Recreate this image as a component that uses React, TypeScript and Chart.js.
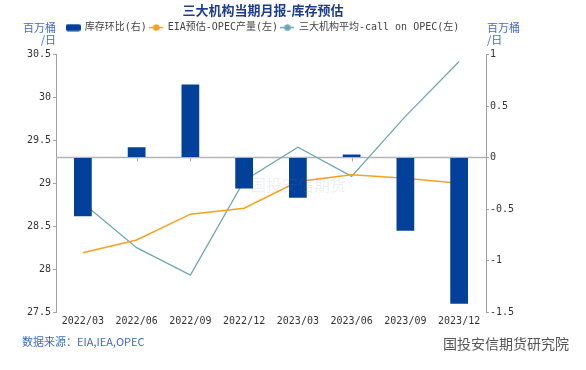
import React, { useEffect, useRef } from "react";
import { Chart, registerables } from "chart.js";

Chart.register(...registerables);

const categories = ["2022/03", "2022/06", "2022/09", "2022/12", "2023/03", "2023/06", "2023/09", "2023/12"];
const inventoryChange = [-0.57, 0.1, 0.71, -0.3, -0.39, 0.03, -0.71, -1.42];
const eiaOpecProduction = [28.19, 28.34, 28.64, 28.71, 29.02, 29.1, 29.06, 29.0];
const callOnOpecAvg = [28.77, 28.25, 27.93, 29.03, 29.42, 29.08, 29.78, 30.42];
const leftTicks = [27.5, 28, 28.5, 29, 29.5, 30, 30.5];
const rightTicks = [-1.5, -1, -0.5, 0, 0.5, 1];

const BAR = "#03409A";
const ORANGE = "#F6A21E";
const TEAL = "#6EA9B0";
const MIXFONT = "'DejaVu Sans Mono', 'Noto Sans CJK SC', monospace";

function makeMarker(kind: "bar" | "line", color: string): HTMLCanvasElement {
  const c = document.createElement("canvas");
  if (kind === "bar") {
    c.width = 15;
    c.height = 8;
    const ctx = c.getContext("2d")!;
    ctx.fillStyle = color;
    ctx.beginPath();
    (ctx as any).roundRect ? (ctx as any).roundRect(0, 0.5, 15, 7, 2) : ctx.rect(0, 0.5, 15, 7);
    ctx.fill();
  } else {
    c.width = 14;
    c.height = 9;
    const ctx = c.getContext("2d")!;
    ctx.strokeStyle = color;
    ctx.lineWidth = 1.5;
    ctx.beginPath();
    ctx.moveTo(0, 4.5);
    ctx.lineTo(14, 4.5);
    ctx.stroke();
    ctx.fillStyle = color;
    ctx.beginPath();
    ctx.arc(7, 4.5, 3.3, 0, Math.PI * 2);
    ctx.fill();
  }
  return c;
}

const zeroLinePlugin = {
  id: "zeroLine",
  beforeDatasetsDraw(chart: any) {
    const { ctx, chartArea, scales } = chart;
    const y = scales.y1.getPixelForValue(0);
    ctx.save();
    ctx.strokeStyle = "#B4B4B4";
    ctx.lineWidth = 1.5;
    ctx.beginPath();
    ctx.moveTo(chartArea.left, y);
    ctx.lineTo(chartArea.right, y);
    ctx.stroke();
    ctx.lineWidth = 1;
    ctx.strokeStyle = "#AAAAAA";
    categories.forEach((_, i) => {
      const x = Math.round(scales.x.getPixelForValue(i)) + 0.5;
      ctx.beginPath();
      ctx.moveTo(x, y);
      ctx.lineTo(x, y + 4);
      ctx.stroke();
    });
    ctx.restore();
  },
};

const legendSpacer = {
  id: "legendSpacer",
  beforeInit(chart: any) {
    if (!chart.legend) return;
    const orig = chart.legend.fit;
    chart.legend.fit = function () {
      orig.bind(chart.legend)();
      this.height += 12;
    };
  },
};

const fmt = (v: any) => String(Number(v));

export default function App() {
  const ref = useRef<HTMLCanvasElement | null>(null);

  useEffect(() => {
    document.body.style.margin = "0";
    const markers = [makeMarker("bar", BAR), makeMarker("line", ORANGE), makeMarker("line", TEAL)];
    const labels = ["库存环比(右)", "EIA预估-OPEC产量(左)", "三大机构平均-call on OPEC(左)"];
    const chart = new Chart(ref.current!, {
      type: "bar",
      data: {
        labels: categories,
        datasets: [
          {
            type: "bar",
            label: labels[0],
            data: inventoryChange,
            yAxisID: "y1",
            backgroundColor: BAR,
            borderWidth: 0,
            categoryPercentage: 1,
            barPercentage: 0.33,
            order: 0,
          },
          {
            type: "line",
            label: labels[1],
            data: eiaOpecProduction,
            yAxisID: "y",
            borderColor: ORANGE,
            backgroundColor: ORANGE,
            borderWidth: 1.5,
            pointRadius: 0,
            tension: 0,
            order: 1,
          },
          {
            type: "line",
            label: labels[2],
            data: callOnOpecAvg,
            yAxisID: "y",
            borderColor: TEAL,
            backgroundColor: TEAL,
            borderWidth: 1.3,
            pointRadius: 0,
            tension: 0,
            order: 2,
          },
        ] as any,
      },
      options: {
        animation: false,
        responsive: false,
        maintainAspectRatio: false,
        layout: { padding: { left: 0, right: 60, top: 0, bottom: 40 } },
        plugins: {
          title: {
            display: true,
            text: "三大机构当期月报-库存预估",
            color: "#1E3C8E",
            font: { family: "'Noto Sans CJK SC'", size: 13, weight: "bold" },
            padding: { top: 2, bottom: 2 },
          },
          legend: {
            display: true,
            position: "top",
            labels: {
              usePointStyle: true,
              pointStyleWidth: 13,
              padding: 3,
              color: "#444",
              font: { family: MIXFONT, size: 10 },
              generateLabels: () =>
                labels.map((t, i) => ({
                  text: t,
                  pointStyle: markers[i] as any,
                  fillStyle: "transparent",
                  strokeStyle: "transparent",
                  lineWidth: 0,
                  hidden: false,
                  datasetIndex: i,
                  fontColor: "#444",
                })),
            },
          },
          tooltip: { enabled: false },
        },
        scales: {
          x: {
            type: "category",
            offset: true,
            grid: { display: false, drawTicks: false, tickLength: 0 },
            border: { display: false },
            ticks: { color: "#333", font: { family: MIXFONT, size: 10 }, padding: 3, maxRotation: 0, autoSkip: false },
          },
          y: {
            position: "left",
            min: 27.5,
            max: 30.5,
            afterBuildTicks: (s: any) => {
              s.ticks = leftTicks.map((v) => ({ value: v }));
            },
            afterFit: (s: any) => {
              s.width = 56;
            },
            grid: { drawOnChartArea: false, drawTicks: true, tickLength: 3, color: "#A0A0A0" },
            border: { display: true, color: "#A0A0A0", width: 1 },
            ticks: { color: "#333", font: { family: MIXFONT, size: 10 }, padding: 2, callback: fmt },
          },
          y1: {
            position: "right",
            min: -1.5,
            max: 1,
            afterBuildTicks: (s: any) => {
              s.ticks = rightTicks.map((v) => ({ value: v }));
            },
            afterFit: (s: any) => {
              s.width = 40;
            },
            grid: { drawOnChartArea: false, drawTicks: true, tickLength: 3, color: "#A0A0A0" },
            border: { display: true, color: "#A0A0A0", width: 1 },
            ticks: { color: "#333", font: { family: MIXFONT, size: 10 }, padding: 1, callback: fmt },
          },
        },
      } as any,
      plugins: [zeroLinePlugin, legendSpacer],
    });
    return () => chart.destroy();
  }, []);

  const axisTitle: React.CSSProperties = {
    position: "absolute",
    color: "#3D6CCB",
    font: "11px 'Noto Sans CJK SC', sans-serif",
    lineHeight: "12px",
  };

  return (
    <div style={{ position: "fixed", left: 0, top: 0, width: 586, height: 370, background: "#fff", overflow: "hidden" }}>
      <canvas ref={ref} width={586} height={370} style={{ position: "absolute", left: 0, top: 0 }} />
      <div style={{ ...axisTitle, left: 22, top: 21, textAlign: "right", width: 34 }}>
        百万桶
        <br />
        /日
      </div>
      <div style={{ ...axisTitle, left: 487, top: 21, textAlign: "left" }}>
        百万桶
        <br />
        /日
      </div>
      <div
        style={{
          position: "absolute",
          left: 250,
          top: 172,
          color: "rgba(120,130,160,0.12)",
          font: "16px 'Noto Sans CJK SC', sans-serif",
          pointerEvents: "none",
        }}
      >
        国投安信期货
      </div>
      <div style={{ position: "absolute", left: 22, top: 333, color: "#3B6BC8", font: "11px 'Noto Sans CJK SC', sans-serif" }}>
        数据来源：EIA,IEA,OPEC
      </div>
      <div style={{ position: "absolute", left: 443, top: 333, color: "#555", font: "14px 'Noto Sans CJK SC', sans-serif" }}>
        国投安信期货研究院
      </div>
    </div>
  );
}
